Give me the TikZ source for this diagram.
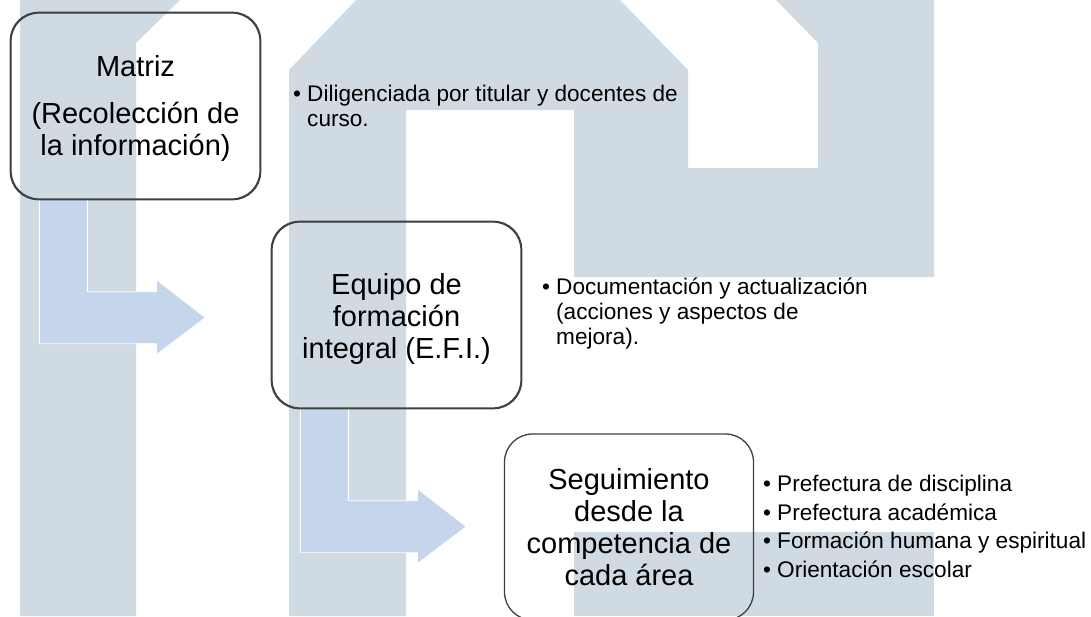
\documentclass[tikz,border=0pt]{standalone}
\usepackage{fontspec}
\setmainfont{Liberation Sans}
\usetikzlibrary{calc}
\definecolor{wm}{RGB}{208,218,227}
\definecolor{arrowblue}{RGB}{197,213,235}
\definecolor{boxline}{RGB}{64,64,64}
\tikzset{
  stagebox/.style={draw=boxline, line width=1.3pt, rounded corners=28pt,
    minimum width=249pt, minimum height=186pt, inner sep=0pt, align=center,
    font=\fontsize{29}{32}\selectfont, text=black},
  bullets/.style={anchor=base west, inner sep=0pt, align=left,
    font=\fontsize{22.6}{25}\selectfont, text=black},
  bendarrow/.pic={
    \fill[arrowblue, draw=white, line width=0.8pt]
      (29,0) -- (77,0) -- (77,92) -- (146,92) -- (146,80) -- (195,118)
      -- (146,155) -- (146,144) -- (29,144) -- cycle;
  }
}
\newcommand{\bul}{\makebox[14pt][l]{•}}
\newcommand{\ind}{\hspace*{14pt}}
\begin{document}
\begin{tikzpicture}[x=1pt,y=-1pt]
\useasboundingbox (0,0) rectangle (1091,616);
% watermark
\fill[wm] (20,616) -- (20,0) -- (180,0) -- (136,43) -- (136,616) -- cycle;
\fill[wm] (289,616) -- (289,70) -- (356,0) -- (620,0) -- (688,70) -- (688,168)
  -- (818,168) -- (818,43) -- (776,0) -- (934,0) -- (934,277) -- (574,277)
  -- (574,110) -- (406,110) -- (406,616) -- cycle;
\fill[wm] (574,532) rectangle (934,616);
% stage boxes
\node[stagebox] (m) at (135.5,106) {\rule{0pt}{25pt}Matriz\\[15pt](Recolección de\\la información)};
\node[stagebox] (e) at (396.5,315) {\rule{0pt}{29pt}Equipo de\\formación\\integral (E.F.I.)};
\node[stagebox] (s) at (629,527) {Seguimiento\\desde la\\competencia de\\cada área};
% bent block arrows
\pic at (m.south west) {bendarrow};
\pic at (e.south west) {bendarrow};
% redraw borders on top of arrows
\draw[boxline, line width=1.3pt, rounded corners=28pt] (m.south west) rectangle (m.north east);
\draw[boxline, line width=1.3pt, rounded corners=28pt] (e.south west) rectangle (e.north east);
% bullet texts
\node[bullets] (t1) at (293,126) {\bul Diligenciada por titular y docentes de\\\ind curso.};
\node[bullets] (t2) at (542,344) {\bul Documentación y actualización\\\ind (acciones y aspectos de\\\ind mejora).};
\node[bullets, font=\fontsize{22.6}{28.4}\selectfont] (t3) at (763,577) {\bul Prefectura de disciplina\\\bul Prefectura académica\\\bul Formación humana y espiritual\\\bul Orientación escolar};
\end{tikzpicture}
\end{document}
